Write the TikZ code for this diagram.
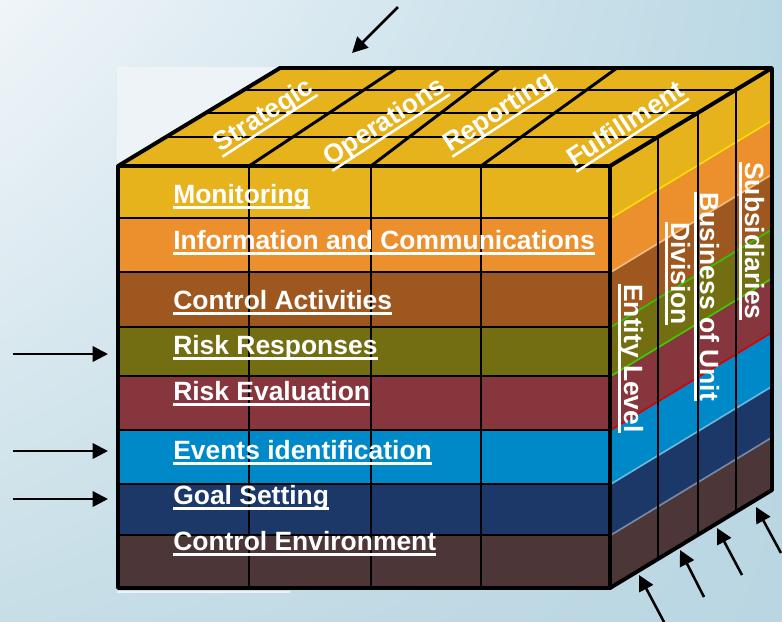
\documentclass[tikz,border=0pt]{standalone}
\usepackage{fontspec}
\setmainfont{Liberation Sans}
\usetikzlibrary{calc,arrows.meta,shadings}
\definecolor{bgUL}{HTML}{F0F5F9}
\definecolor{bgUR}{HTML}{BAD8E4}
\definecolor{bgLL}{HTML}{C7DEE7}
\definecolor{bgLR}{HTML}{B9D6E2}
\definecolor{bgPatch}{HTML}{EDF3F6}
\definecolor{gold}{HTML}{E7B31C}
\definecolor{orng}{HTML}{EC8F2D}
\definecolor{brwn}{HTML}{9E581F}
\definecolor{olive}{HTML}{746E12}
\definecolor{maroon}{HTML}{88363E}
\definecolor{sky}{HTML}{0089C8}
\definecolor{navy}{HTML}{1B3868}
\definecolor{dkbrwn}{HTML}{4C3637}
\tikzset{
	lbl/.style={inner sep=0pt, text=white, font=\bfseries\fontsize{18.8}{22}\selectfont},
	uline/.style={draw=white, line width=1.8pt},
	edge/.style={line width=2.8pt, line join=round},
	grid/.style={line width=2.1pt},
	ptr/.style={line width=1.8pt, -{Triangle[length=11pt,width=11pt]}}
}
\def\rowband[#1](#2:#3){\fill[#1] (118,#2) rectangle (610,#3); \fill[#1] (610,#2) -- ++(162,-98) -- ++(0,{#3-#2}) -- (610,#3) -- cycle;}
\def\bandseam[#1](#2){\draw[#1, line width=1.2pt] (611,#2) -- ++(160,-97);}
\def\ulbl[#1](#2)#3#4{\node[lbl,#1] (#3) at (#2) {#4};
	\draw[uline] ($(#3.base west)!0.11cm!-90:(#3.base east)$) -- ($(#3.base east)!0.11cm!90:(#3.base west)$);}

\begin{document}
\begin{tikzpicture}[x=0.025cm, y=-0.025cm]
			%%%%% START %%%%%
			
			\useasboundingbox (0,0) rectangle (782,621);
			\shade[upper left=bgUL, upper right=bgUR, lower left=bgLL, lower right=bgLR] (0,0) rectangle (782,621);
			\fill[bgPatch] (117,67) rectangle (280,166);
			\draw[bgPatch, line width=1.5pt] (117,592) -- (290,592);
			
			% top face
			\fill[gold] (118,166) -- (280,68) -- (772,68) -- (610,166) -- cycle;
			
			% rows, front and side
			\rowband[gold](166:218)
			\rowband[orng](218:272)
			\rowband[brwn](272:327)
			\rowband[olive](327:376)
			\rowband[maroon](376:430)
			\rowband[sky](430:484)
			\rowband[navy](484:535)
			\rowband[dkbrwn](535:588)
			
			\bandseam[yellow!80!orange](218)
			\bandseam[orng!60!white](272)
			\bandseam[green!60!olive](327)
			\bandseam[green!70!yellow!80!black](376)
			\bandseam[red!85!black](430)
			\bandseam[sky!60!white](484)
			\bandseam[navy!60!white](535)
			
			% grid on the top
			\draw[grid] (166,137) -- (658,137);
			\draw[grid] (206,113) -- (698,113);
			\draw[grid] (244,90) -- (736,90);
			\draw[grid] (249,166) -- (397,68);
			\draw[grid] (371,166) -- (500,68);
			\draw[grid] (481,166) -- (617,68);
			
			% grid on the side
			\draw[grid] (658,137) -- (658,559);
			\draw[grid] (698,113) -- (698,535);
			\draw[grid] (736,90) -- (736,512);
			
			% grid on the front
			\draw[grid] (118,218) -- (610,218);
			\draw[grid] (118,272) -- (610,272);
			\draw[grid] (118,327) -- (610,327);
			\draw[grid] (118,376) -- (610,376);
			\draw[grid] (118,430) -- (610,430);
			\draw[grid] (118,484) -- (610,484);
			\draw[grid] (118,535) -- (610,535);
			\draw[grid] (249,166) -- (249,588);
			\draw[grid] (371,166) -- (371,588);
			\draw[grid] (481,166) -- (481,588);
			
			\draw[edge] (118,166) -- (118,588) -- (610,588) -- (772,490) -- (772,68) -- (280,68) -- cycle;
			\draw[edge] (118,166) -- (610,166) -- (772,68);
			\draw[edge] (610,166) -- (610,588);
			
			% components
			\ulbl[anchor=base west](173,203){mon}{Monitoring}
			\ulbl[anchor=base west](173,249){info}{Information and Communications}
			\ulbl[anchor=base west](173,309){ctrlact}{Control Activities}
			\ulbl[anchor=base west](173,354){riskresp}{Risk Responses}
			\ulbl[anchor=base west](173,400){riskeval}{Risk Evaluation}
			\ulbl[anchor=base west](173,459){events}{Events identification}
			\ulbl[anchor=base west](173,504){goal}{Goal Setting}
			\ulbl[anchor=base west](173,550){ctrlenv}{Control Environment}
			
			% objectives
			\ulbl[anchor=base west, rotate=33](220,153){strat}{Strategic}
			\ulbl[anchor=base west, rotate=33](330,167){oper}{Operations}
			\ulbl[anchor=base west, rotate=33](450,153){rep}{Reporting}
			\ulbl[anchor=base west, rotate=33](574,168){fulf}{Fulfillment}
			
			% units
			\ulbl[anchor=base west, rotate=-90](624,284){entity}{Entity Level}
			\ulbl[anchor=base west, rotate=-90](671,222){divis}{Division}
			\ulbl[anchor=base west, rotate=-90](700,192){busin}{Business of Unit}
			\ulbl[anchor=base west, rotate=-90](745,162){subs}{Subsidiaries}
			
			% arrows
			\coordinate (topT) at (398,7);
			\coordinate (topH) at (352,53);
			\draw[ptr] (topT) -- (topH);
			
			\coordinate (respT) at (13,354);
			\coordinate (respH) at (108,354);
			\coordinate (evT) at (13,451);
			\coordinate (evH) at (108,451);
			\coordinate (goalT) at (13,499);
			\coordinate (goalH) at (108,499);
			\draw[ptr] (respT) -- (respH);
			\draw[ptr] (evT) -- (evH);
			\draw[ptr] (goalT) -- (goalH);
			
			\coordinate (sideAT) at (664,622);
			\coordinate (sideAH) at (639,575);
			\coordinate (sideBT) at (704,597);
			\coordinate (sideBH) at (680,550);
			\coordinate (sideCT) at (742,575);
			\coordinate (sideCH) at (717,528);
			\coordinate (sideDT) at (781,553);
			\coordinate (sideDH) at (756,507);
			\draw[ptr] (sideAT) -- (sideAH);
			\draw[ptr] (sideBT) -- (sideBH);
			\draw[ptr] (sideCT) -- (sideCH);
			\draw[ptr] (sideDT) -- (sideDH);
			
			%%%%% END %%%%%
\end{tikzpicture}
\end{document}
